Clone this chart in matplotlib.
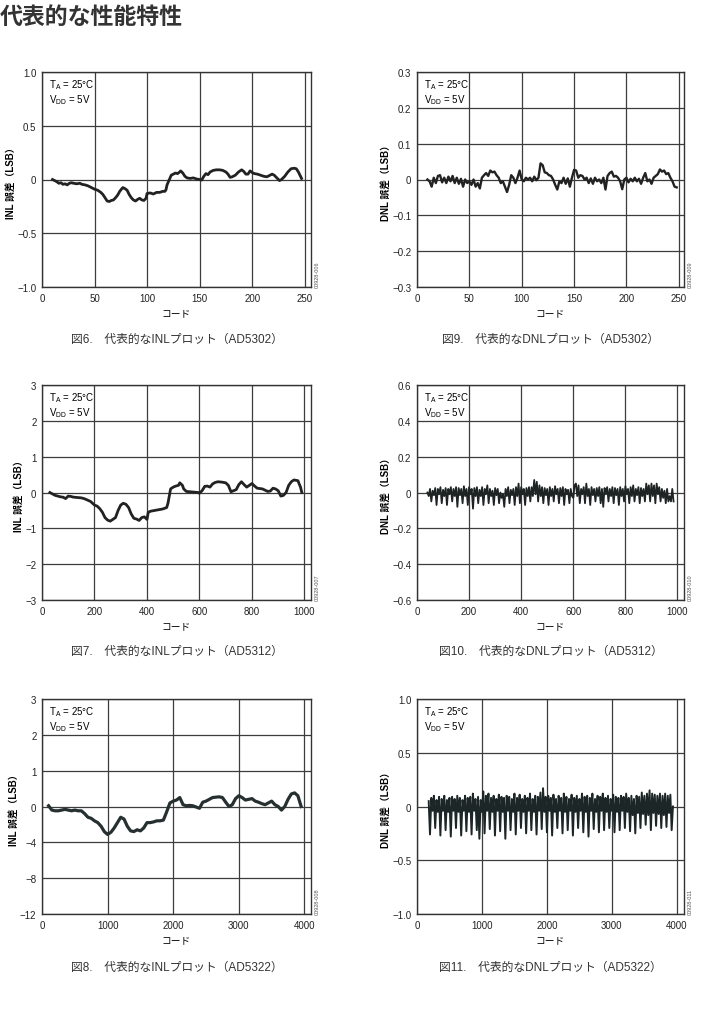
import numpy as np
import matplotlib.pyplot as plt

plt.rcParams['font.family'] = ['Liberation Sans', 'Noto Sans CJK JP']
plt.rcParams['axes.unicode_minus'] = True

W, H = 703, 1012

# --- data ---
# fig 6: INL AD5302
inl5302_code = [10, 12, 14, 16, 18, 20, 22, 24, 26, 28, 30, 33, 36, 38, 41, 44, 47, 50, 53, 56,
                58, 60, 62, 64, 66, 68, 70, 72, 74, 76, 77, 79, 81, 83, 85, 87, 89, 91, 93, 95,
                97, 99, 100, 103, 106, 109, 112, 115, 117, 118, 119, 121, 123, 125, 127, 129, 131, 132, 134, 136,
                138, 141, 144, 147, 150, 152, 154, 156, 158, 160, 163, 166, 169, 172, 175, 177, 179, 181, 184, 187,
                190, 192, 194, 196, 198, 200, 202, 205, 208, 211, 214, 217, 219, 221, 224, 226, 228, 231, 234, 237,
                240, 242, 244, 246, 247]
inl5302_val = [0.0, -0.01, -0.02, -0.035, -0.03, -0.045, -0.04, -0.05, -0.035, -0.03, -0.035, -0.04, -0.035, -0.045, -0.05, -0.06, -0.075, -0.09, -0.1, -0.12,
               -0.14, -0.17, -0.2, -0.205, -0.195, -0.19, -0.17, -0.145, -0.11, -0.085, -0.075, -0.085, -0.1, -0.14, -0.17, -0.19, -0.2, -0.185, -0.175, -0.19,
               -0.195, -0.175, -0.13, -0.125, -0.135, -0.12, -0.12, -0.11, -0.11, -0.095, -0.05, -0.005, 0.04, 0.05, 0.06, 0.055, 0.07, 0.08, 0.06, 0.03,
               0.015, 0.01, 0.015, 0.005, 0.0, -0.005, 0.03, 0.055, 0.045, 0.07, 0.085, 0.09, 0.09, 0.085, 0.07, 0.05, 0.02, 0.025, 0.04, 0.07,
               0.09, 0.075, 0.05, 0.05, 0.08, 0.065, 0.055, 0.05, 0.04, 0.03, 0.025, 0.04, 0.05, 0.04, 0.01, -0.01, 0.0, 0.03, 0.07, 0.1,
               0.105, 0.1, 0.07, 0.03, 0.01]

# fig 7: INL AD5312
inl5312_code = [30, 40, 50, 60, 70, 80, 90, 100, 110, 120, 135, 150, 160, 170, 185, 200, 210, 220, 230, 240,
                250, 260, 270, 280, 290, 300, 310, 320, 330, 340, 350, 360, 370, 380, 390, 400, 405, 415, 430, 445,
                460, 475, 480, 485, 490, 500, 510, 520, 525, 535, 540, 550, 565, 580, 595, 600, 610, 620, 630, 640,
                650, 660, 670, 685, 700, 710, 720, 730, 740, 750, 760, 770, 780, 790, 800, 810, 820, 840, 860, 870,
                880, 890, 900, 910, 920, 930, 940, 950, 960, 975, 985, 990]
inl5312_val = [0.0, -0.04, -0.08, -0.1, -0.12, -0.13, -0.17, -0.1, -0.11, -0.13, -0.14, -0.15, -0.17, -0.2, -0.25, -0.35, -0.38, -0.45, -0.55, -0.7,
               -0.77, -0.8, -0.75, -0.7, -0.5, -0.35, -0.3, -0.33, -0.42, -0.6, -0.72, -0.74, -0.78, -0.7, -0.68, -0.75, -0.55, -0.52, -0.5, -0.48,
               -0.46, -0.42, -0.3, -0.1, 0.1, 0.15, 0.18, 0.2, 0.27, 0.2, 0.1, 0.03, 0.02, 0.01, 0.0, -0.02, 0.05, 0.17, 0.18, 0.15,
               0.24, 0.28, 0.3, 0.29, 0.27, 0.2, 0.02, 0.05, 0.08, 0.22, 0.3, 0.22, 0.15, 0.2, 0.25, 0.18, 0.12, 0.1, 0.03, 0.04,
               0.12, 0.1, 0.05, -0.1, -0.08, 0.0, 0.2, 0.3, 0.35, 0.33, 0.15, 0.0]

# fig 8: INL AD5322 (values in grid units, tick labels as printed)
inl5322_code = [100, 150, 200, 250, 300, 350, 400, 450, 500, 550, 600, 650, 700, 750, 800, 850, 900, 950, 980, 1000,
                1050, 1100, 1150, 1200, 1250, 1300, 1350, 1400, 1450, 1500, 1550, 1600, 1650, 1700, 1750, 1800, 1850, 1900, 1950, 2000,
                2050, 2100, 2150, 2200, 2250, 2300, 2400, 2450, 2500, 2550, 2600, 2700, 2750, 2800, 2850, 2900, 2950, 3000, 3050, 3100,
                3150, 3200, 3250, 3300, 3350, 3400, 3450, 3500, 3550, 3600, 3650, 3700, 3750, 3800, 3850, 3900, 3950]
inl5322_val = [0.02, -0.1, -0.12, -0.12, -0.1, -0.08, -0.1, -0.12, -0.1, -0.12, -0.12, -0.2, -0.3, -0.33, -0.4, -0.45, -0.55, -0.7, -0.75, -0.78,
               -0.72, -0.6, -0.45, -0.3, -0.35, -0.55, -0.68, -0.7, -0.65, -0.68, -0.6, -0.45, -0.45, -0.43, -0.4, -0.4, -0.38, -0.15, 0.1, 0.15,
               0.18, 0.25, 0.05, 0.02, 0.03, 0.02, -0.05, 0.12, 0.15, 0.2, 0.25, 0.27, 0.25, 0.12, 0.0, 0.05, 0.22, 0.3, 0.25, 0.18,
               0.2, 0.22, 0.15, 0.12, 0.08, 0.05, 0.1, 0.15, 0.05, 0.0, -0.1, 0.0, 0.2, 0.35, 0.38, 0.3, 0.0]

# fig 9: DNL AD5302, codes 10..248 step 2
dnl5302_code = np.arange(10, 250, 2)
dnl5302_val = [0.0, -0.005, -0.02, 0.005, -0.01, 0.01, 0.012, -0.008, 0.005, -0.01,
               0.008, -0.005, 0.01, -0.01, 0.005, -0.012, 0.002, -0.02, 0.0, -0.01,
               -0.005, -0.015, 0.0, -0.02, -0.01, -0.025, 0.005, 0.012, 0.018, 0.01,
               0.025, 0.02, 0.022, 0.012, 0.005, -0.01, -0.005, -0.02, -0.035, -0.015,
               0.012, 0.005, -0.01, 0.005, 0.025, 0.0, -0.005, 0.005, 0.0, 0.005,
               -0.005, 0.008, -0.002, 0.005, 0.045, 0.04, 0.02, 0.018, 0.012, 0.01,
               0.0, -0.015, -0.028, -0.005, -0.01, 0.005, -0.012, 0.003, -0.02, 0.005,
               0.027, 0.025, 0.005, 0.012, 0.01, 0.0, 0.005, -0.01, 0.003, -0.012,
               0.005, -0.005, 0.0, -0.01, 0.005, -0.028, 0.01, 0.018, 0.022, 0.008,
               0.01, 0.005, -0.005, -0.027, 0.0, 0.005, -0.008, 0.002, -0.005, 0.005,
               -0.005, 0.002, -0.012, 0.005, 0.018, -0.005, 0.0, -0.012, 0.005, 0.01,
               0.015, 0.028, 0.022, 0.025, 0.015, 0.018, 0.005, -0.005, -0.02, -0.022]

# fig 10: DNL AD5312, codes 40..985 step 5
dnl5312_code = np.arange(40, 990, 5)
dnl5312_val = [0.0, -0.02, 0.02, -0.05, 0.01, -0.015, 0.025, -0.07, 0.02, -0.01,
               0.03, -0.06, 0.015, -0.02, 0.025, -0.07, 0.02, -0.01, 0.03, -0.05,
               0.02, -0.02, 0.03, -0.08, 0.025, -0.015, 0.02, -0.06, 0.035, -0.02,
               0.02, -0.07, 0.03, -0.01, 0.02, -0.09, 0.025, -0.02, 0.03, -0.06,
               0.015, -0.02, 0.03, -0.07, 0.02, -0.01, 0.04, -0.06, 0.02, -0.02,
               0.01, -0.07, 0.025, -0.015, 0.02, -0.06, 0.0, -0.03, -0.01, -0.08,
               0.02, -0.02, 0.03, -0.06, 0.015, -0.015, 0.02, -0.07, 0.03, -0.02,
               0.05, -0.06, 0.03, -0.01, 0.02, -0.07, 0.025, -0.02, 0.03, -0.05,
               0.03, -0.02, 0.07, -0.01, 0.06, -0.05, 0.04, -0.02, 0.03, -0.06,
               0.025, -0.015, 0.02, -0.07, 0.03, -0.02, 0.02, -0.05, 0.035, -0.01,
               0.02, -0.06, 0.025, -0.02, 0.03, -0.07, 0.02, -0.01, 0.015, -0.06,
               0.02, -0.02, -0.03, 0.04, 0.05, -0.02, 0.04, -0.06, 0.02, -0.01,
               0.03, -0.06, 0.05, -0.02, 0.02, -0.07, 0.03, -0.015, 0.02, -0.05,
               0.025, -0.02, 0.03, -0.06, 0.02, -0.08, 0.025, -0.01, 0.03, -0.05,
               0.02, -0.02, 0.03, -0.06, 0.025, -0.015, 0.02, -0.07, 0.03, -0.02,
               0.02, -0.05, 0.035, -0.01, 0.02, -0.06, 0.03, -0.02, 0.04, -0.05,
               0.02, -0.015, 0.03, -0.06, 0.025, -0.02, 0.02, -0.05, 0.05, -0.01,
               0.04, -0.05, 0.05, -0.02, 0.04, -0.06, 0.05, -0.01, 0.03, -0.05,
               0.02, -0.03, 0.01, -0.06, 0.02, -0.05, -0.02, -0.05, 0.02, -0.05]

# fig 11: DNL AD5322, codes 180..3940 step 20
dnl5322_code = np.arange(180, 3960, 20)
dnl5322_val = [0.05, -0.26, 0.08, -0.04, 0.1, -0.2, 0.06, -0.05, 0.09, -0.27,
               0.07, -0.04, 0.1, -0.22, 0.06, -0.05, 0.08, -0.28, 0.09, -0.04,
               0.07, -0.2, 0.1, -0.05, 0.08, -0.27, 0.06, -0.04, 0.1, -0.23,
               0.08, -0.05, 0.09, -0.26, 0.12, -0.04, 0.07, -0.22, 0.09, -0.3,
               0.06, -0.05, 0.14, -0.25, 0.1, -0.04, 0.12, -0.21, 0.08, -0.05,
               0.1, -0.27, 0.07, -0.04, 0.11, -0.23, 0.09, -0.05, 0.08, -0.3,
               0.1, -0.04, 0.09, -0.22, 0.07, -0.05, 0.12, -0.26, 0.08, -0.04,
               0.11, -0.2, 0.07, -0.05, 0.1, -0.25, 0.08, -0.04, 0.12, -0.22,
               0.07, -0.05, 0.1, -0.26, 0.09, -0.04, 0.13, -0.21, 0.17, -0.05,
               0.09, -0.24, 0.1, -0.04, 0.08, -0.27, 0.11, -0.05, 0.07, -0.2,
               0.1, -0.04, 0.08, -0.25, 0.12, -0.05, 0.09, -0.22, 0.07, -0.04,
               0.11, -0.27, 0.08, -0.05, 0.1, -0.2, 0.07, -0.04, 0.12, -0.24,
               0.09, -0.05, 0.1, -0.28, 0.08, -0.04, 0.12, -0.21, 0.07, -0.05,
               0.1, -0.24, 0.09, -0.04, 0.12, -0.22, 0.08, -0.05, 0.1, -0.2,
               0.07, -0.04, 0.11, -0.24, 0.09, -0.05, 0.08, -0.22, 0.1, -0.04,
               0.09, -0.2, 0.12, -0.05, 0.08, -0.23, 0.1, -0.08, 0.07, -0.25,
               0.1, -0.06, 0.09, -0.2, 0.13, -0.07, 0.1, -0.17, 0.12, -0.08,
               0.15, -0.22, 0.12, -0.06, 0.11, -0.18, 0.1, -0.07, 0.12, -0.2,
               0.1, -0.08, 0.12, -0.19, 0.1, -0.06, 0.11, -0.22, 0.0]

# ticks and text
x256_ticks = [0, 50, 100, 150, 200, 250]
x1k_ticks = [0, 200, 400, 600, 800, 1000]
x4k_ticks = [0, 1000, 2000, 3000, 4000]
inl5302_yt = [-1.0, -0.5, 0, 0.5, 1.0]
inl5302_yl = ['−1.0', '−0.5', '0', '0.5', '1.0']
dnl5302_yt = [-0.3, -0.2, -0.1, 0, 0.1, 0.2, 0.3]
dnl5302_yl = ['−0.3', '−0.2', '−0.1', '0', '0.1', '0.2', '0.3']
inl5312_yt = [-3, -2, -1, 0, 1, 2, 3]
inl5312_yl = ['−3', '−2', '−1', '0', '1', '2', '3']
dnl5312_yt = [-0.6, -0.4, -0.2, 0, 0.2, 0.4, 0.6]
dnl5312_yl = ['−0.6', '−0.4', '−0.2', '0', '0.2', '0.4', '0.6']
inl5322_yt = [-3, -2, -1, 0, 1, 2, 3]
inl5322_yl = ['−12', '−8', '−4', '0', '1', '2', '3']
dnl5322_yt = [-1.0, -0.5, 0, 0.5, 1.0]
dnl5322_yl = ['−1.0', '−0.5', '0', '0.5', '1.0']

captions = ['図6.\u3000代表的なINLプロット（AD5302）', '図9.\u3000代表的なDNLプロット（AD5302）',
            '図7.\u3000代表的なINLプロット（AD5312）', '図10.\u3000代表的なDNLプロット（AD5312）',
            '図8.\u3000代表的なINLプロット（AD5322）', '図11.\u3000代表的なDNLプロット（AD5322）']
codes = ['00928-006', '00928-009', '00928-007', '00928-010', '00928-008', '00928-011']

fig = plt.figure(figsize=(W / 100, H / 100), dpi=100)
fig.text(0.0, 1 - 17 / H, '代表的な性能特性', fontsize=16.5, fontweight='bold',
         color='#333333', va='center', ha='left')

cols = [(42, 311), (417, 684)]
rows = [(73, 288, 340), (386, 601, 652), (700, 915, 968)]

panels = [
    (inl5302_code, inl5302_val, 256, x256_ticks, inl5302_yt, inl5302_yl, 'INL 誤差（LSB）', 2.0, '#222222'),
    (dnl5302_code, dnl5302_val, 255, x256_ticks, dnl5302_yt, dnl5302_yl, 'DNL 誤差（LSB）', 1.7, '#222222'),
    (inl5312_code, inl5312_val, 1025, x1k_ticks, inl5312_yt, inl5312_yl, 'INL 誤差（LSB）', 2.0, '#222222'),
    (dnl5312_code, dnl5312_val, 1025, x1k_ticks, dnl5312_yt, dnl5312_yl, 'DNL 誤差（LSB）', 1.3, '#1e2424'),
    (inl5322_code, inl5322_val, 4100, x4k_ticks, inl5322_yt, inl5322_yl, 'INL 誤差（LSB）', 2.3, '#263030'),
    (dnl5322_code, dnl5322_val, 4110, x4k_ticks, dnl5322_yt, dnl5322_yl, 'DNL 誤差（LSB）', 1.4, '#1c2626'),
]

for i, (xc, yv, xmax, xt, yt, yl, ylab, lw, col) in enumerate(panels):
    c0, c1 = cols[i % 2]
    top, bot, cap_y = rows[i // 2]
    ax = fig.add_axes([c0 / W, 1 - bot / H, (c1 - c0) / W, (bot - top) / H])
    ax.plot(xc, yv, color=col, lw=lw)
    ax.set_xlim(0, xmax)
    ax.set_ylim(yt[0], yt[-1])
    ax.set_xticks(xt)
    ax.set_yticks(yt)
    ax.set_yticklabels(yl)
    ax.tick_params(length=0, labelsize=7, pad=4, colors='#222222')
    ax.grid(True, color='#3c3c3c', lw=0.9)
    ax.set_axisbelow(True)
    for s in ax.spines.values():
        s.set_color('#333333')
        s.set_linewidth(1.0)
    ax.set_xlabel('コード', fontsize=7, labelpad=3)
    ax.set_ylabel(ylab, fontsize=7, fontweight='bold', labelpad=1)
    ax.text(0.025, 0.975, 'T$_\\mathregular{A}$ = 25°C\nV$_\\mathregular{DD}$ = 5V',
            transform=ax.transAxes, fontsize=7, va='top', ha='left', linespacing=1.1)
    ax.text(1.015, 0.0, codes[i], transform=ax.transAxes, rotation=90, fontsize=4,
            color='#555555', va='bottom', ha='left')
    fig.text((c0 + c1) / 2 / W, 1 - cap_y / H, captions[i], fontsize=8.5, color='#333333',
             ha='center', va='center')

fig.savefig('out.png', dpi=100)
